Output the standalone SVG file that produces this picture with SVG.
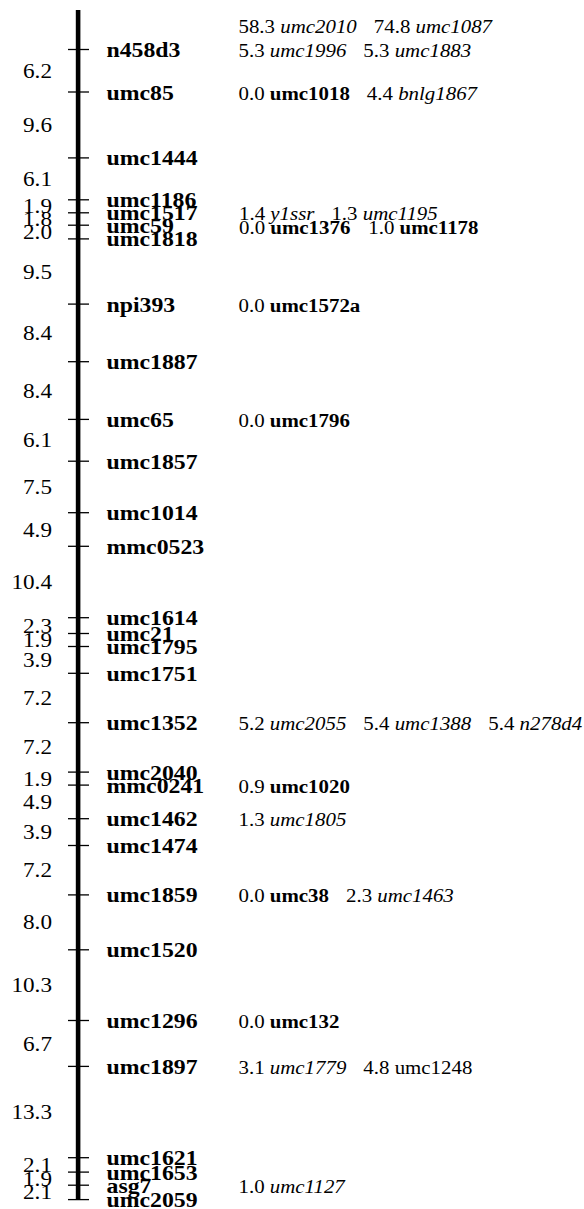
<svg xmlns="http://www.w3.org/2000/svg" width="584" height="1209" viewBox="0 0 584 1209">
<style>
text{font-family:"Liberation Serif","Times New Roman",serif;fill:#000}
.lab{font-size:20.5px;font-weight:bold}
.ann{font-size:18px}
.num{font-size:20px;text-anchor:end}
.i{font-style:italic}
.b{font-weight:bold}
.tick{stroke:#000;stroke-width:1.3}
</style>
<rect width="584" height="1209" fill="#fff"/>
<g id="connectors">
<rect id="chromosome" x="75.8" y="10" width="4.6" height="1189.6" fill="#000"/>
</g>
<g id="intervals">
<text class="num" transform="translate(52,77.8) scale(1.16,1)">6.2</text>
<text class="num" transform="translate(52,132) scale(1.16,1)">9.6</text>
<text class="num" transform="translate(52,185.9) scale(1.16,1)">6.1</text>
<text class="num" transform="translate(52,213.3) scale(1.16,1)">1.9</text>
<text class="num" transform="translate(52,226) scale(1.16,1)">1.8</text>
<text class="num" transform="translate(52,239) scale(1.16,1)">2.0</text>
<text class="num" transform="translate(52,278.5) scale(1.16,1)">9.5</text>
<text class="num" transform="translate(52,339.9) scale(1.16,1)">8.4</text>
<text class="num" transform="translate(52,397.6) scale(1.16,1)">8.4</text>
<text class="num" transform="translate(52,447.3) scale(1.16,1)">6.1</text>
<text class="num" transform="translate(52,494) scale(1.16,1)">7.5</text>
<text class="num" transform="translate(52,536.5) scale(1.16,1)">4.9</text>
<text class="num" transform="translate(52,589) scale(1.16,1)">10.4</text>
<text class="num" transform="translate(52,632.6) scale(1.16,1)">2.3</text>
<text class="num" transform="translate(52,647) scale(1.16,1)">1.9</text>
<text class="num" transform="translate(52,666.9) scale(1.16,1)">3.9</text>
<text class="num" transform="translate(52,705) scale(1.16,1)">7.2</text>
<text class="num" transform="translate(52,754.4) scale(1.16,1)">7.2</text>
<text class="num" transform="translate(52,785.6) scale(1.16,1)">1.9</text>
<text class="num" transform="translate(52,808.9) scale(1.16,1)">4.9</text>
<text class="num" transform="translate(52,839.1) scale(1.16,1)">3.9</text>
<text class="num" transform="translate(52,877.2) scale(1.16,1)">7.2</text>
<text class="num" transform="translate(52,929.4) scale(1.16,1)">8.0</text>
<text class="num" transform="translate(52,992.2) scale(1.16,1)">10.3</text>
<text class="num" transform="translate(52,1050.5) scale(1.16,1)">6.7</text>
<text class="num" transform="translate(52,1119) scale(1.16,1)">13.3</text>
<text class="num" transform="translate(52,1171.9) scale(1.16,1)">2.1</text>
<text class="num" transform="translate(52,1185.7) scale(1.16,1)">1.9</text>
<text class="num" transform="translate(52,1199.4) scale(1.16,1)">2.1</text>
</g>
<g id="n458d3"><line class="tick" x1="68" y1="49.5" x2="89" y2="49.5"/><text class="lab" transform="translate(106.5,57) scale(1.16,1)">n458d3</text>
<text class="ann" transform="translate(238.5,33) scale(1.16,1)"><tspan>58.3 </tspan><tspan class="i">umc2010</tspan><tspan dx="14.7">74.8 </tspan><tspan class="i">umc1087</tspan></text>
<text class="ann" transform="translate(238.5,57) scale(1.16,1)"><tspan>5.3 </tspan><tspan class="i">umc1996</tspan><tspan dx="14.7">5.3 </tspan><tspan class="i">umc1883</tspan></text></g>
<g id="umc85"><line class="tick" x1="68" y1="92" x2="89" y2="92"/><text class="lab" transform="translate(106.5,99.5) scale(1.16,1)">umc85</text>
<text class="ann" transform="translate(238.5,99.5) scale(1.16,1)"><tspan>0.0 </tspan><tspan class="b">umc1018</tspan><tspan dx="14.7">4.4 </tspan><tspan class="i">bnlg1867</tspan></text></g>
<g id="umc1444"><line class="tick" x1="68" y1="157.9" x2="89" y2="157.9"/><text class="lab" transform="translate(106.5,165.4) scale(1.16,1)">umc1444</text></g>
<g id="umc1186"><line class="tick" x1="68" y1="199.8" x2="89" y2="199.8"/><text class="lab" transform="translate(106.5,207.3) scale(1.16,1)">umc1186</text></g>
<g id="umc1517"><line class="tick" x1="68" y1="212.8" x2="89" y2="212.8"/><text class="lab" transform="translate(106.5,220.3) scale(1.16,1)">umc1517</text>
<text class="ann" transform="translate(239,220.3) scale(1.16,1)"><tspan>1.4 </tspan><tspan class="i">y1ssr</tspan><tspan dx="14.7">1.3 </tspan><tspan class="i">umc1195</tspan></text></g>
<g id="umc59"><line class="tick" x1="68" y1="225.2" x2="89" y2="225.2"/><text class="lab" transform="translate(106.5,232.7) scale(1.16,1)">umc59</text>
<text class="ann" transform="translate(239,233.5) scale(1.16,1)"><tspan>0.0 </tspan><tspan class="b">umc1376</tspan><tspan dx="15.5">1.0 </tspan><tspan class="b">umc1178</tspan></text></g>
<g id="umc1818"><line class="tick" x1="68" y1="238.9" x2="89" y2="238.9"/><text class="lab" transform="translate(106.5,246.4) scale(1.16,1)">umc1818</text></g>
<g id="npi393"><line class="tick" x1="68" y1="304.1" x2="89" y2="304.1"/><text class="lab" transform="translate(106.5,311.6) scale(1.16,1)">npi393</text>
<text class="ann" transform="translate(238.5,311.6) scale(1.16,1)"><tspan>0.0 </tspan><tspan class="b">umc1572a</tspan></text></g>
<g id="umc1887"><line class="tick" x1="68" y1="361.7" x2="89" y2="361.7"/><text class="lab" transform="translate(106.5,369.2) scale(1.16,1)">umc1887</text></g>
<g id="umc65"><line class="tick" x1="68" y1="419.4" x2="89" y2="419.4"/><text class="lab" transform="translate(106.5,426.9) scale(1.16,1)">umc65</text>
<text class="ann" transform="translate(238.5,426.9) scale(1.16,1)"><tspan>0.0 </tspan><tspan class="b">umc1796</tspan></text></g>
<g id="umc1857"><line class="tick" x1="68" y1="461.2" x2="89" y2="461.2"/><text class="lab" transform="translate(106.5,468.7) scale(1.16,1)">umc1857</text></g>
<g id="umc1014"><line class="tick" x1="68" y1="512.7" x2="89" y2="512.7"/><text class="lab" transform="translate(106.5,520.2) scale(1.16,1)">umc1014</text></g>
<g id="mmc0523"><line class="tick" x1="68" y1="546.3" x2="89" y2="546.3"/><text class="lab" transform="translate(106.5,553.8) scale(1.16,1)">mmc0523</text></g>
<g id="umc1614"><line class="tick" x1="68" y1="617.7" x2="89" y2="617.7"/><text class="lab" transform="translate(106.5,625.2) scale(1.16,1)">umc1614</text></g>
<g id="umc21"><line class="tick" x1="68" y1="633.5" x2="89" y2="633.5"/><text class="lab" transform="translate(106.5,641) scale(1.16,1)">umc21</text></g>
<g id="umc1795"><line class="tick" x1="68" y1="646.5" x2="89" y2="646.5"/><text class="lab" transform="translate(106.5,654) scale(1.16,1)">umc1795</text></g>
<g id="umc1751"><line class="tick" x1="68" y1="673.3" x2="89" y2="673.3"/><text class="lab" transform="translate(106.5,680.8) scale(1.16,1)">umc1751</text></g>
<g id="umc1352"><line class="tick" x1="68" y1="722.7" x2="89" y2="722.7"/><text class="lab" transform="translate(106.5,730.2) scale(1.16,1)">umc1352</text>
<text class="ann" transform="translate(238.5,730.2) scale(1.16,1)"><tspan>5.2 </tspan><tspan class="i">umc2055</tspan><tspan dx="14.7">5.4 </tspan><tspan class="i">umc1388</tspan><tspan dx="14.7">5.4 </tspan><tspan class="i">n278d4</tspan></text></g>
<g id="umc2040"><line class="tick" x1="68" y1="772.1" x2="89" y2="772.1"/><text class="lab" transform="translate(106.5,779.6) scale(1.16,1)">umc2040</text></g>
<g id="mmc0241"><line class="tick" x1="68" y1="785.1" x2="89" y2="785.1"/><text class="lab" transform="translate(106.5,792.6) scale(1.16,1)">mmc0241</text>
<text class="ann" transform="translate(238.5,792.6) scale(1.16,1)"><tspan>0.9 </tspan><tspan class="b">umc1020</tspan></text></g>
<g id="umc1462"><line class="tick" x1="68" y1="818.7" x2="89" y2="818.7"/><text class="lab" transform="translate(106.5,826.2) scale(1.16,1)">umc1462</text>
<text class="ann" transform="translate(238.5,826.2) scale(1.16,1)"><tspan>1.3 </tspan><tspan class="i">umc1805</tspan></text></g>
<g id="umc1474"><line class="tick" x1="68" y1="845.5" x2="89" y2="845.5"/><text class="lab" transform="translate(106.5,853) scale(1.16,1)">umc1474</text></g>
<g id="umc1859"><line class="tick" x1="68" y1="894.9" x2="89" y2="894.9"/><text class="lab" transform="translate(106.5,902.4) scale(1.16,1)">umc1859</text>
<text class="ann" transform="translate(238.5,902.4) scale(1.16,1)"><tspan>0.0 </tspan><tspan class="b">umc38</tspan><tspan dx="14.7">2.3 </tspan><tspan class="i">umc1463</tspan></text></g>
<g id="umc1520"><line class="tick" x1="68" y1="949.8" x2="89" y2="949.8"/><text class="lab" transform="translate(106.5,957.3) scale(1.16,1)">umc1520</text></g>
<g id="umc1296"><line class="tick" x1="68" y1="1020.5" x2="89" y2="1020.5"/><text class="lab" transform="translate(106.5,1028) scale(1.16,1)">umc1296</text>
<text class="ann" transform="translate(238.5,1028) scale(1.16,1)"><tspan>0.0 </tspan><tspan class="b">umc132</tspan></text></g>
<g id="umc1897"><line class="tick" x1="68" y1="1066.4" x2="89" y2="1066.4"/><text class="lab" transform="translate(106.5,1073.9) scale(1.16,1)">umc1897</text>
<text class="ann" transform="translate(238.5,1073.9) scale(1.16,1)"><tspan>3.1 </tspan><tspan class="i">umc1779</tspan><tspan dx="14.7">4.8 umc1248</tspan></text></g>
<g id="umc1621"><line class="tick" x1="68" y1="1157.7" x2="89" y2="1157.7"/><text class="lab" transform="translate(106.5,1165.2) scale(1.16,1)">umc1621</text></g>
<g id="umc1653"><line class="tick" x1="68" y1="1172.1" x2="89" y2="1172.1"/><text class="lab" transform="translate(106.5,1179.6) scale(1.16,1)">umc1653</text></g>
<g id="asg7"><line class="tick" x1="68" y1="1185.2" x2="89" y2="1185.2"/><text class="lab" transform="translate(106.5,1192.7) scale(1.16,1)">asg7</text>
<text class="ann" transform="translate(238.5,1192.7) scale(1.16,1)"><tspan>1.0 </tspan><tspan class="i">umc1127</tspan></text></g>
<g id="umc2059"><line class="tick" x1="68" y1="1199.6" x2="89" y2="1199.6"/><text class="lab" transform="translate(106.5,1207.1) scale(1.16,1)">umc2059</text></g>
</svg>
